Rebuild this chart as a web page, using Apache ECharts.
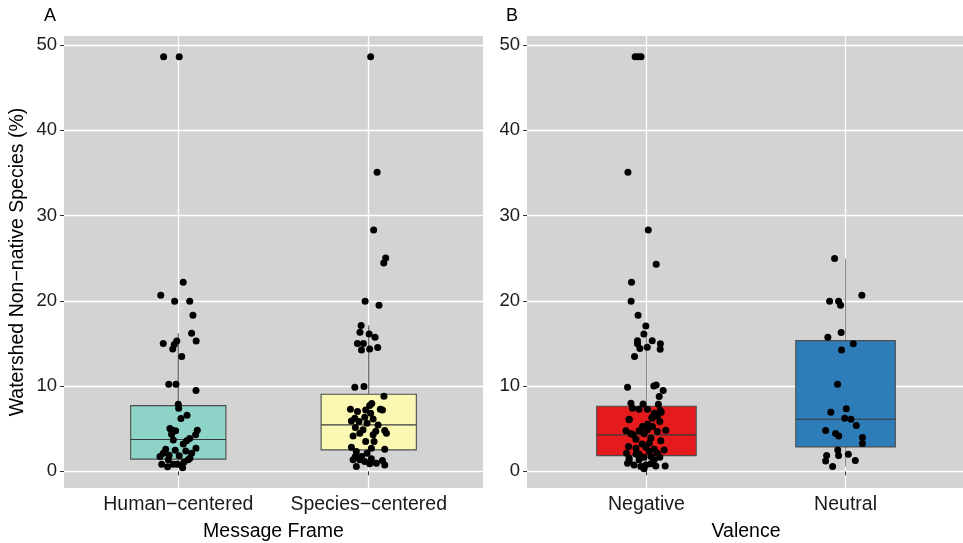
<!DOCTYPE html>
<html><head><meta charset="utf-8">
<script src="https://cdn.jsdelivr.net/npm/echarts@6/dist/echarts.min.js"></script>
<style>html,body{margin:0;padding:0;background:#fff}#c{width:963px;height:543px}</style>
</head><body><div id="c"></div><script>
// ---- data ----
const frameCats = ['Human\u2212centered', 'Species\u2212centered'];
const valenceCats = ['Negative', 'Neutral'];
const yTicks = [0, 10, 20, 30, 40, 50];
const xTicks = [1, 2];
const frameColors = ['#8DD3C7', '#FBF8B4'];
const valenceColors = ['#E41A1C', '#2F7DB8'];

// box stats: [min, Q1, median, Q3, max]
const humanBox = [0.41, 1.43, 3.73, 7.71, 16.2];
const speciesBox = [0.56, 2.52, 5.45, 9.05, 17.09];
const negativeBox = [0.3, 1.85, 4.28, 7.64, 16.12];
const neutralBox = [0.56, 2.87, 6.12, 15.33, 24.95];

// points (value) and horizontal jitter (category units)
const humanValues = [48.63,48.63,22.18,20.66,19.95,19.95,18.31,16.2,15.3,14.98,15.3,14.87,14.36,13.46,10.22,10.22,9.47,7.88,7.41,6.59,6.19,5.02,4.75,4.83,4.36,4.28,3.69,3.22,3.85,3.58,2.6,2.48,2.4,2.72,2.13,2.13,1.82,1.74,1.55,1.35,0.84,0.53,0.84,0.76,0.41,0.84,1.35,4.9,1.1,1.9];
const humanJitter = [-0.077,0.005,0.026,-0.092,-0.019,0.060,0.077,0.070,0.094,-0.079,-0.008,-0.021,-0.029,0.018,-0.050,-0.012,0.093,0,0.002,0.046,0.014,-0.044,-0.014,0.100,-0.035,0.091,-0.026,0.026,0.060,0.044,-0.066,-0.016,0.039,0.093,0.070,-0.079,0.005,-0.096,0.061,-0.052,-0.087,-0.056,-0.026,0.018,0.023,-0.005,0.052,-0.038,0.030,-0.048];

const speciesValues = [48.63,35.08,28.3,25.03,24.44,19.95,19.48,17.09,16.32,16.12,15.73,14.98,14.98,14.24,14.36,14.51,9.87,9.94,8.82,7.95,7.71,7.29,7.01,7.21,7.29,7.21,6.82,6.24,6.35,6.15,5.92,5.84,5.65,5.45,5.13,4.87,4.71,4.78,4.48,4.48,4.16,4.28,3.49,3.49,2.84,2.72,2.6,2.32,2.13,1.74,1.74,1.47,1.15,0.96,1.27,0.76,0.56,0.88,1.35,1.35];
const speciesJitter = [0.010,0.044,0.026,0.089,0.079,-0.019,0.054,-0.040,-0.046,0.002,0.033,-0.059,-0.028,-0.038,0.005,0.047,-0.073,-0.025,0.080,0.016,0.005,-0.096,-0.059,-0.016,0.061,0.072,0.010,-0.073,-0.021,0.023,-0.091,-0.051,-0.009,0.049,-0.070,-0.030,0.037,0.084,0.093,-0.047,-0.082,0.023,-0.016,0.028,-0.091,0.014,0.084,-0.065,-0.009,-0.070,-0.038,0.014,-0.021,0.040,0.072,0.084,-0.065,0.005,-0.082,-0.047];

const negativeValues = [48.63,48.63,48.63,35.08,28.3,24.29,22.18,19.95,18.31,17.06,16.12,15.33,14.95,14.4,14.56,15.33,14.95,14.33,13.46,9.87,10.02,10.14,8.77,9.47,8.0,7.91,7.88,7.41,7.29,7.29,7.13,6.12,6.82,6.31,5.84,5.53,5.25,5.25,4.75,4.75,4.87,4.67,4.83,4.4,4.4,3.77,3.89,3.58,2.91,2.72,2.84,2.6,2.52,2.13,2.05,2.32,2.13,1.55,1.35,1.66,1.35,1.66,0.96,0.76,0.56,0.76,0.88,0.64,0.64,0.3,1.27,6.04,6.94,6.5,6.24,4.3,3.3,2.0,1.7,3.2];
const negativeJitter = [-0.057,-0.042,-0.027,-0.093,0.009,0.049,-0.075,-0.077,-0.042,-0.003,-0.013,-0.045,-0.045,-0.033,0.004,0.029,0.070,0.069,-0.060,-0.095,0.037,0.049,0.064,0.084,-0.078,-0.017,0.060,-0.070,-0.037,0.005,0.069,-0.087,0.039,0.027,0.067,0.005,-0.020,0.030,-0.103,-0.037,0.005,0.055,0.097,-0.078,-0.012,-0.053,0.022,0.072,-0.090,-0.053,-0.003,0.039,0.089,-0.100,-0.037,0.014,0.055,-0.087,-0.037,-0.012,0.039,0.067,-0.095,-0.062,-0.028,-0.003,0.022,0.047,0.094,-0.012,-0.087,-0.087,0.074,0.055,0.029,-0.067,0.014,-0.052,0.024,-0.022];

const neutralValues = [24.95,20.66,19.95,19.95,19.48,16.27,15.73,14.95,14.24,10.22,7.33,6.94,6.24,6.12,5.37,4.78,4.43,4.16,3.96,3.26,2.52,1.85,1.85,2.01,1.23,1.27,0.56];
const neutralJitter = [-0.055,0.082,-0.080,-0.035,-0.025,-0.022,-0.089,0.039,-0.020,-0.040,0.004,-0.074,-0.004,0.027,0.054,-0.100,-0.050,-0.034,0.085,0.085,-0.039,-0.095,-0.035,0.014,-0.100,0.049,-0.065];

// ---- build ----
function pts(cat, vals, jit) { return vals.map((v, i) => [cat + jit[i], v]); }
function boxRow(cat, b) { return [cat].concat(b); }

const FONT = '"Liberation Sans", Arial, Helvetica, sans-serif';
const BG = '#D3D3D3';

function makeRender(colors, whiskerColor) {
  return function (params, api) {
    const x = api.value(0), lo = api.value(1), q1 = api.value(2), med = api.value(3), q3 = api.value(4), hi = api.value(5);
    const h = 0.25;
    const a = api.coord([x - h, q3]), b = api.coord([x + h, q1]);
    const pHi = api.coord([x, hi]), pQ3 = api.coord([x, q3]), pQ1 = api.coord([x, q1]), pLo = api.coord([x, lo]);
    const ml = api.coord([x - h, med]), mr = api.coord([x + h, med]);
    return {
      type: 'group',
      children: [
        { type: 'line', shape: { x1: pHi[0], y1: pHi[1], x2: pQ3[0], y2: pQ3[1] }, style: { stroke: whiskerColor, lineWidth: 1.1 } },
        { type: 'line', shape: { x1: pQ1[0], y1: pQ1[1], x2: pLo[0], y2: pLo[1] }, style: { stroke: whiskerColor, lineWidth: 1.1 } },
        { type: 'rect', shape: { x: a[0], y: a[1], width: b[0] - a[0], height: b[1] - a[1] }, style: { fill: colors[params.dataIndex], stroke: '#4D4D4D', lineWidth: 1.1 } },
        { type: 'line', shape: { x1: ml[0], y1: ml[1], x2: mr[0], y2: mr[1] }, style: { stroke: '#3A3A3A', lineWidth: 1.1 } }
      ]
    };
  };
}

function xAxisCfg(gi, cats, name) {
  return {
    type: 'value', gridIndex: gi, min: 0.4, max: 2.6,
    name: name, nameLocation: 'middle', nameGap: 34,
    nameTextStyle: { fontFamily: FONT, fontSize: 19.5, color: '#000' },
    axisLine: { show: false },
    axisTick: { show: true, customValues: xTicks, length: 4, lineStyle: { color: '#333', width: 1 } },
    axisLabel: { customValues: xTicks, fontFamily: FONT, fontSize: 19.5, color: '#1a1a1a', margin: 7,
      formatter: v => cats[Math.round(v) - 1] },
    splitLine: { show: true, lineStyle: { color: '#fff', width: 1.3 } }
  };
}
function yAxisCfg(gi, name) {
  return {
    type: 'value', gridIndex: gi, min: -1.95, max: 51.05,
    name: name, nameLocation: 'middle', nameGap: 36,
    nameTextStyle: { fontFamily: FONT, fontSize: 19.5, color: '#000' },
    axisLine: { show: false },
    axisTick: { show: true, customValues: yTicks, length: 4, lineStyle: { color: '#333', width: 1 } },
    axisLabel: { customValues: yTicks, fontFamily: FONT, fontSize: 18.5, color: '#1a1a1a', margin: 7 },
    splitLine: { show: true, lineStyle: { color: '#fff', width: 1.3 } }
  };
}

const chart = echarts.init(document.getElementById('c'), null, { renderer: 'canvas' });
chart.setOption({
  animation: false,
  backgroundColor: '#fff',
  grid: [
    { left: 64, top: 36, width: 419, height: 452, show: true, backgroundColor: BG, borderWidth: 0, containLabel: false, outerBoundsMode: 'none' },
    { left: 527, top: 36, width: 438, height: 452, show: true, backgroundColor: BG, borderWidth: 0, containLabel: false, outerBoundsMode: 'none' }
  ],
  xAxis: [xAxisCfg(0, frameCats, 'Message Frame'), xAxisCfg(1, valenceCats, 'Valence')],
  yAxis: [yAxisCfg(0, 'Watershed Non\u2212native Species (%)'), yAxisCfg(1, '')],
  graphic: [
    { type: 'text', left: 44, top: 7, style: { text: 'A', font: '18px ' + FONT, fill: '#000' } },
    { type: 'text', left: 506, top: 7, style: { text: 'B', font: '18px ' + FONT, fill: '#000' } }
  ],
  series: [
    { type: 'custom', xAxisIndex: 0, yAxisIndex: 0, renderItem: makeRender(frameColors, '#555'),
      data: [boxRow(1, humanBox), boxRow(2, speciesBox)], z: 2, silent: true },
    { type: 'custom', xAxisIndex: 1, yAxisIndex: 1, renderItem: makeRender(valenceColors, '#8C8C8C'),
      data: [boxRow(1, negativeBox), boxRow(2, neutralBox)], z: 2, silent: true },
    { type: 'scatter', xAxisIndex: 0, yAxisIndex: 0, symbolSize: 7, itemStyle: { color: '#000', opacity: 1 }, z: 5,
      data: pts(1, humanValues, humanJitter).concat(pts(2, speciesValues, speciesJitter)) },
    { type: 'scatter', xAxisIndex: 1, yAxisIndex: 1, symbolSize: 7, itemStyle: { color: '#000', opacity: 1 }, z: 5,
      data: pts(1, negativeValues, negativeJitter).concat(pts(2, neutralValues, neutralJitter)) }
  ]
});
</script></body></html>
